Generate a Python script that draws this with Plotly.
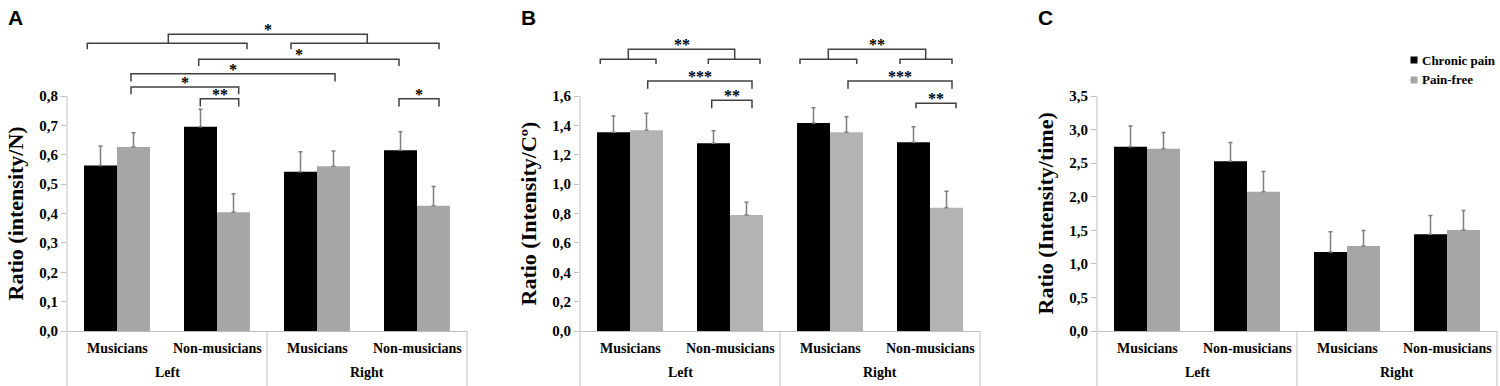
import plotly.graph_objects as go

W, H = 1500, 386

# ---------------- data ----------------
groups = ["Left", "Right"]
subgroups = ["Musicians", "Non-musicians", "Musicians", "Non-musicians"]
series_names = ["Chronic pain", "Pain-free"]

a_chronic = [0.563, 0.695, 0.542, 0.615]
a_chronic_err = [0.067, 0.060, 0.068, 0.063]
a_free = [0.626, 0.404, 0.561, 0.426]
a_free_err = [0.049, 0.063, 0.052, 0.066]

b_chronic = [1.353, 1.278, 1.416, 1.285]
b_chronic_err = [0.111, 0.086, 0.104, 0.106]
b_free = [1.366, 0.790, 1.353, 0.840]
b_free_err = [0.116, 0.086, 0.106, 0.111]

c_chronic = [2.745, 2.527, 1.177, 1.440]
c_chronic_err = [0.31, 0.28, 0.30, 0.28]
c_free = [2.715, 2.075, 1.266, 1.504]
c_free_err = [0.24, 0.30, 0.23, 0.29]

a_ticks = [0, 0.1, 0.2, 0.3, 0.4, 0.5, 0.6, 0.7, 0.8]
b_ticks = [0, 0.2, 0.4, 0.6, 0.8, 1.0, 1.2, 1.4, 1.6]
c_ticks = [0, 0.5, 1.0, 1.5, 2.0, 2.5, 3.0, 3.5]

titles = ["Ratio (intensity/N)", "Ratio (Intensity/Cº)", "Ratio (Intensity/time)"]
letters = ["A", "B", "C"]

# significance brackets: (label, x0, x1, y_bar, y_leg_end)
a_brackets = [
    ("*", 0.513, 2.503, 1.010, 0.980),
    ("", -0.297, 1.30, 0.980, 0.959),
    ("", 1.74, 3.22, 0.980, 0.959),
    ("*", 0.817, 2.82, 0.925, 0.902),
    ("*", 0.14, 2.18, 0.876, 0.849),
    ("*", 0.14, 1.217, 0.831, 0.806),
    ("**", 0.833, 1.217, 0.791, 0.764),
    ("*", 2.82, 3.22, 0.791, 0.764),
]
b_brackets = [
    ("**", -0.017, 1.047, 1.918, 1.850),
    ("", -0.297, 0.26, 1.850, 1.818),
    ("", 0.783, 1.30, 1.850, 1.818),
    ("***", 0.177, 1.22, 1.702, 1.650),
    ("**", 0.817, 1.22, 1.571, 1.516),
    ("**", 1.983, 2.957, 1.918, 1.850),
    ("", 1.70, 2.267, 1.850, 1.818),
    ("", 2.70, 3.22, 1.850, 1.818),
    ("***", 2.18, 3.22, 1.702, 1.650),
    ("**", 2.86, 3.26, 1.550, 1.516),
]

# ---------------- style ----------------
SERIF = "Liberation Serif"
SANS = "Liberation Sans"
AXIS_GREY = "#bfbfbf"
ERR_GREY = "#7f7f7f"
BRACKET = "#404040"
BLACK = "#000000"
GREYS = ["#a6a6a6", "#b3b3b3", "#a6a6a6"]

x_domains = [(67, 467), (580, 980), (1097, 1497)]
y_base_px = 331
y_top_px = 96  # pixel of highest tick
y_dom_bottom = (H - y_base_px) / H

panels = [
    (a_chronic, a_chronic_err, a_free, a_free_err, a_ticks, a_brackets),
    (b_chronic, b_chronic_err, b_free, b_free_err, b_ticks, b_brackets),
    (c_chronic, c_chronic_err, c_free, c_free_err, c_ticks, []),
]

fig = go.Figure()
xcat = list(range(len(subgroups)))

shapes = []
annotations = []

for i, (ch, che, pf, pfe, ticks, brackets) in enumerate(panels):
    n = i + 1
    xa = "x" if n == 1 else f"x{n}"
    ya = "y" if n == 1 else f"y{n}"
    for vals, errs, name, col in [(ch, che, series_names[0], BLACK),
                                  (pf, pfe, series_names[1], GREYS[i])]:
        fig.add_trace(go.Bar(
            x=xcat, y=vals, name=name, xaxis=xa, yaxis=ya,
            marker=dict(color=col, line=dict(width=0)),
            error_y=dict(type="data", array=errs, arrayminus=[0] * len(errs),
                         symmetric=False, color=ERR_GREY, thickness=1.5, width=2),
            showlegend=False, hoverinfo="skip",
        ))
    top_tick = ticks[-1]
    ymax = top_tick * y_base_px / (y_base_px - y_top_px)
    d0, d1 = x_domains[i]
    fig.layout[f"xaxis{'' if n == 1 else n}"] = dict(
        domain=[d0 / W, d1 / W], range=[-0.5, 3.5], anchor=ya,
        showline=True, linecolor=AXIS_GREY, linewidth=1,
        showticklabels=False, ticks="", showgrid=False, zeroline=False,
        fixedrange=True, automargin=False,
    )
    fig.layout[f"yaxis{'' if n == 1 else n}"] = dict(
        domain=[y_dom_bottom, 1], range=[0, ymax], anchor=xa,
        tickvals=ticks, tickformat=".1f", ticks="outside", ticklen=5,
        tickcolor=AXIS_GREY, tickwidth=1, showline=False, showgrid=False,
        zeroline=False, tickfont=dict(family=SERIF, size=15, color="black"),
        fixedrange=True, automargin=False,
    )
    # y-axis line only up to the top tick
    shapes.append(dict(type="line", xref=f"{xa} domain", yref=ya,
                       x0=0, x1=0, y0=0, y1=top_tick,
                       line=dict(color=AXIS_GREY, width=1)))
    # category dividers below the axis
    for xd in [0, 0.5, 1]:
        shapes.append(dict(type="line", xref=f"{xa} domain", yref="paper",
                           x0=xd, x1=xd, y0=0, y1=y_dom_bottom,
                           line=dict(color=AXIS_GREY, width=1)))
    # category labels
    for k, lab in enumerate(subgroups):
        annotations.append(dict(text=lab, xref=xa, yref=ya, x=k, y=0,
                                yshift=-17, showarrow=False, yanchor="middle",
                                font=dict(family=SERIF, size=14, color="black")))
    for k, g in enumerate(groups):
        annotations.append(dict(text=g, xref=xa, yref=ya, x=0.5 + 2 * k, y=0,
                                yshift=-41.5, showarrow=False, yanchor="middle",
                                font=dict(family=SERIF, size=14, color="black")))
    # y title
    annotations.append(dict(text=titles[i], xref=f"{xa} domain", yref=ya,
                            x=0, xshift=-52, y=top_tick / 2, textangle=-90,
                            showarrow=False, xanchor="center", yanchor="middle",
                            font=dict(family=SERIF, size=22, color="black")))
    # panel letter
    annotations.append(dict(text=letters[i], xref=f"{xa} domain", yref="paper",
                            x=0, xshift=-61, y=1, yshift=-4,
                            xanchor="left", yanchor="top", showarrow=False,
                            font=dict(family=SANS, size=21, color="black")))
    # significance brackets
    for lab, x0, x1, yb, yl in brackets:
        shapes.append(dict(type="path", xref=xa, yref=ya,
                           path=f"M{x0},{yl} L{x0},{yb} L{x1},{yb} L{x1},{yl}",
                           line=dict(color=BRACKET, width=1.5)))
        if lab:
            annotations.append(dict(text=lab, xref=xa, yref=ya,
                                    x=(x0 + x1) / 2, y=yb, yanchor="bottom",
                                    yshift=-6, showarrow=False,
                                    font=dict(family=SERIF, size=16, color="black")))

# legend (drawn in panel C space)
leg_x_px = 1410.5
for j, (name, col) in enumerate(zip(series_names, [BLACK, GREYS[2]])):
    yc = 60 + 20 * j
    shapes.append(dict(type="rect", xref="paper", yref="paper",
                       x0=leg_x_px / W, x1=(leg_x_px + 7) / W,
                       y0=(H - yc - 3.5) / H, y1=(H - yc + 3.5) / H,
                       fillcolor=col, line=dict(width=0)))
    annotations.append(dict(text=name, xref="paper", yref="paper",
                            x=(leg_x_px + 9) / W, y=(H - yc) / H,
                            xanchor="left", yanchor="middle", showarrow=False,
                            font=dict(family=SERIF, size=13, color="black")))

fig.update_layout(
    width=W, height=H, margin=dict(l=0, r=0, t=0, b=0),
    paper_bgcolor="white", plot_bgcolor="white",
    barmode="group", bargap=0.34, bargroupgap=0,
    separators=", ",
    font=dict(family=SERIF, color="black"),
    shapes=shapes, annotations=annotations,
)

# bold serif for all text
fig.update_layout(font=dict(family=SERIF, weight="bold"))
for ax in ["yaxis", "yaxis2", "yaxis3"]:
    fig.layout[ax].tickfont.weight = "bold"
for ann in fig.layout.annotations:
    ann.font.weight = "bold"

fig.write_html(
    "out.html",
    config={"displayModeBar": False},
    post_script="document.body.style.margin='0';document.body.style.overflow='hidden';",
)
